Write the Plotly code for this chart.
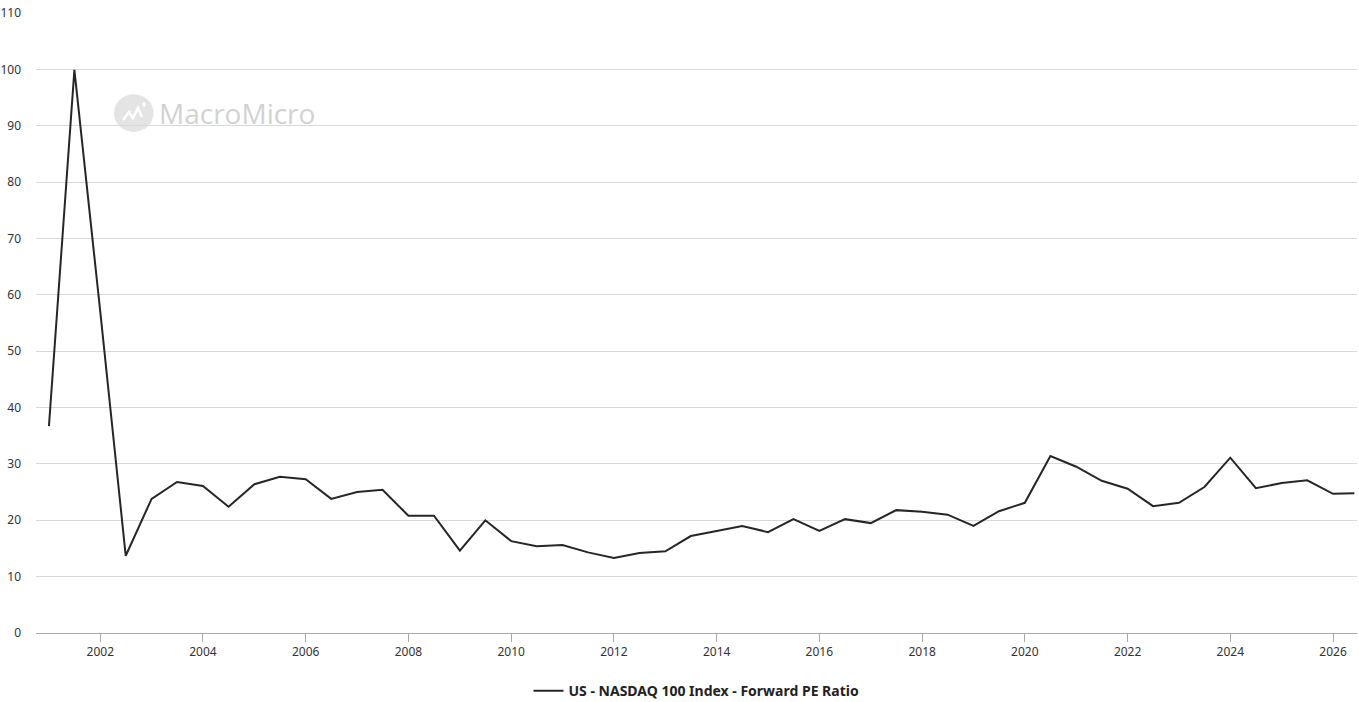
import plotly.graph_objects as go

dates = [
    "2001-01-01", "2001-07-01", "2002-01-01", "2002-07-01", "2003-01-01", "2003-07-01",
    "2004-01-01", "2004-07-01", "2005-01-01", "2005-07-01", "2006-01-01", "2006-07-01",
    "2007-01-01", "2007-07-01", "2008-01-01", "2008-07-01", "2009-01-01", "2009-07-01",
    "2010-01-01", "2010-07-01", "2011-01-01", "2011-07-01", "2012-01-01", "2012-07-01",
    "2013-01-01", "2013-07-01", "2014-01-01", "2014-07-01", "2015-01-01", "2015-07-01",
    "2016-01-01", "2016-07-01", "2017-01-01", "2017-07-01", "2018-01-01", "2018-07-01",
    "2019-01-01", "2019-07-01", "2020-01-01", "2020-07-01", "2021-01-01", "2021-07-01",
    "2022-01-01", "2022-07-01", "2023-01-01", "2023-07-01", "2024-01-01", "2024-07-01",
    "2025-01-01", "2025-07-01", "2026-01-01", "2026-06-01",
]
forward_pe = [
    36.7, 99.9, 57.0, 13.7, 23.8, 26.8,
    26.1, 22.4, 26.4, 27.7, 27.3, 23.8,
    25.0, 25.4, 20.8, 20.8, 14.6, 20.0,
    16.3, 15.4, 15.6, 14.3, 13.3, 14.2,
    14.5, 17.2, 18.1, 19.0, 17.9, 20.2,
    18.1, 20.2, 19.5, 21.8, 21.5, 21.0,
    19.0, 21.6, 23.1, 31.4, 29.5, 27.0,
    25.6, 22.5, 23.1, 25.9, 31.1, 25.7,
    26.6, 27.1, 24.7, 24.8,
]
series_name = "US - NASDAQ 100 Index - Forward PE Ratio"
x_ticks = [f"{y}-01-01" for y in range(2002, 2027, 2)]
x_tick_text = [str(y) for y in range(2002, 2027, 2)]

fig = go.Figure()
fig.add_trace(go.Scatter(
    x=dates, y=forward_pe, mode="lines", name="<b>" + series_name + "</b>",
    line=dict(color="#262626", width=2),
))

# watermark: grey disc with a little white zigzag, then the name
fig.add_shape(type="circle", xref="paper", yref="paper",
              x0=0.059, x1=0.089, y0=0.808, y1=0.869,
              fillcolor="#e4e4e4", line=dict(width=0), layer="below")
fig.add_shape(type="path", xref="paper", yref="paper",
              path="M 0.0659 0.8274 L 0.0704 0.8403 L 0.0734 0.8306 L 0.0772 0.8468 L 0.0802 0.8323",
              line=dict(color="white", width=2.5), layer="below")
fig.add_shape(type="circle", xref="paper", yref="paper",
              x0=0.0806, x1=0.0830, y0=0.8485, y1=0.8565,
              fillcolor="white", line=dict(width=0), layer="below")
fig.add_annotation(text="MacroMicro", xref="paper", yref="paper",
                   x=0.0915, y=0.839, xanchor="left", yanchor="middle",
                   showarrow=False, font=dict(size=28, color="#d2d2d2", family="Open Sans"))

fig.update_layout(
    width=1359, height=702,
    margin=dict(l=36, r=2, t=13, b=69, autoexpand=False),
    paper_bgcolor="white", plot_bgcolor="white",
    font=dict(family="Noto Sans, Open Sans, sans-serif", size=12, color="#333333"),
    showlegend=True,
    legend=dict(orientation="h", x=0.5, xanchor="center", y=-0.068, yanchor="top",
                font=dict(size=14, color="#222222", family="Noto Sans"),
                itemwidth=30),
    hovermode="x",
)
fig.update_xaxes(
    range=["2000-10-01", "2026-06-20"], automargin=False,
    tickvals=x_ticks, ticktext=x_tick_text,
    showgrid=False, showline=True, linecolor="#aaaaaa", linewidth=1,
    ticks="outside", ticklen=8, tickcolor="#aaaaaa",
    tickfont=dict(size=12, color="#333333"),
)
fig.update_yaxes(
    range=[0, 110], tickvals=list(range(0, 111, 10)), automargin=False,
    showgrid=True, gridcolor="#d9d9d9", gridwidth=1,
    zeroline=False, showline=False,
    tickfont=dict(size=12, color="#333333"), ticks="", ticklabelstandoff=14,
)

# drop the default 8px body margin so the figure fills the window
fig.write_html("out.html", config={"displayModeBar": False},
               post_script="document.body.style.margin='0';")
